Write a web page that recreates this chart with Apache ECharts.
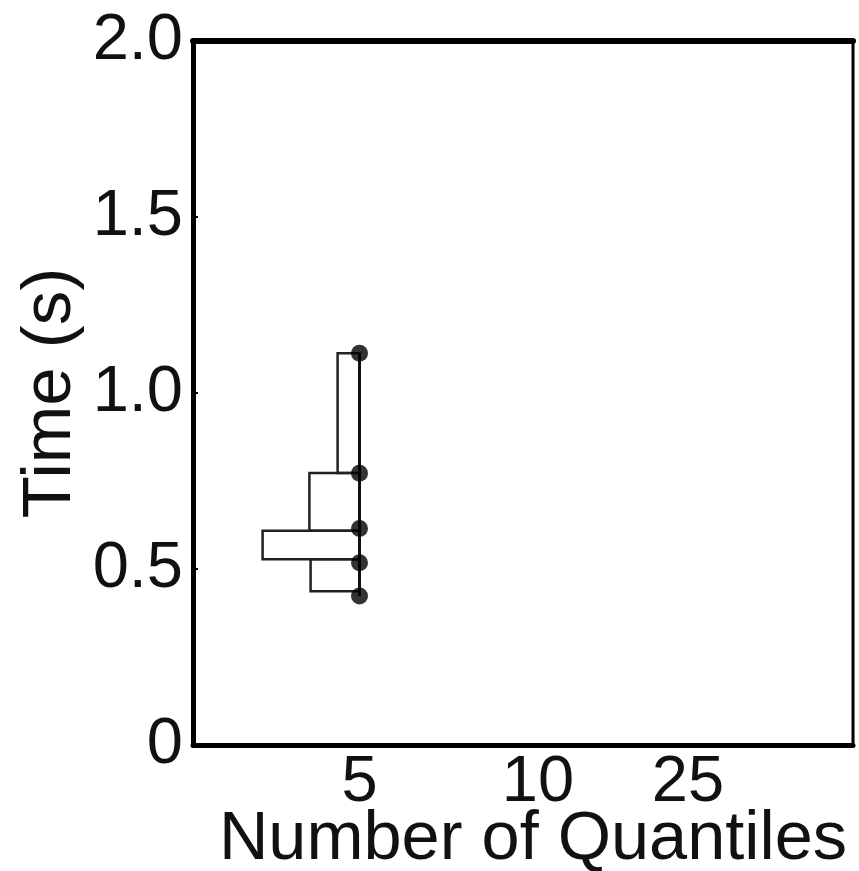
<!DOCTYPE html>
<html>
<head>
<meta charset="utf-8">
<script src="https://cdn.jsdelivr.net/npm/echarts@6/dist/echarts.min.js"></script>
<style>
html,body{margin:0;padding:0;background:#fff;}
#c{width:859px;height:871px;}
</style>
</head>
<body>
<div id="c"></div>
<script>
// x-axis slots for each quantile setting (axis units) and their labels
var quantileSlots = [5.55, 11.5, 16.5];
var quantileLabels = ['5', '10', '25'];
// 5-quantile case: quantile times (s)
var quantileTimes5 = [0.423, 0.518, 0.615, 0.772, 1.113];
// histogram bins (s) between quantiles and their bar lengths (axis units)
var binLow5  = [0.437, 0.528, 0.609, 0.773];
var binHigh5 = [0.528, 0.609, 0.773, 1.113];
var binLen5  = [1.63, 3.23, 1.67, 0.73];
var yTicks = [0, 0.5, 1.0, 1.5, 2.0];

var FONT = 'Liberation Sans';
var slot = quantileSlots[0];

var barData = binLow5.map(function (lo, i) { return [slot, lo, binHigh5[i], binLen5[i]]; });
var dotData = quantileTimes5.map(function (t) { return [slot, t]; });

var chart = echarts.init(document.getElementById('c'));
chart.setOption({
  animation: false,
  backgroundColor: '#fff',
  grid: { left: 193, right: 6, top: 41, bottom: 126, show: true, borderColor: '#000', borderWidth: 3,
          outerBoundsMode: 'none', containLabel: false },
  xAxis: [{
    type: 'value', min: 0, max: 22, position: 'bottom',
    name: 'Number of Quantiles', nameLocation: 'middle', nameGap: 61, nameMoveOverlap: false,
    nameTextStyle: { fontFamily: FONT, fontSize: 68.5, color: '#111', padding: [0, 0, 0, 20] },
    axisLine: { show: true, onZero: false, lineStyle: { color: '#000', width: 5 } },
    axisTick: { show: false },
    splitLine: { show: false },
    axisLabel: {
      customValues: quantileSlots, margin: 6,
      fontFamily: FONT, fontSize: 65, color: '#111',
      formatter: function (v) { var i = quantileSlots.indexOf(v); return i >= 0 ? quantileLabels[i] : ''; }
    }
  }, {
    type: 'value', min: 0, max: 22, position: 'top',
    axisLine: { show: true, onZero: false, lineStyle: { color: '#000', width: 6 } },
    axisTick: { show: false }, axisLabel: { show: false }, splitLine: { show: false }
  }],
  yAxis: {
    type: 'value', min: 0, max: 2, interval: 0.5,
    name: 'Time (s)', nameLocation: 'middle', nameGap: 108, nameMoveOverlap: false,
    nameTextStyle: { fontFamily: FONT, fontSize: 69, color: '#111' },
    axisLine: { show: true, onZero: false, lineStyle: { color: '#000', width: 5 } },
    axisTick: { show: true, inside: true, length: 5, lineStyle: { color: '#000', width: 2 } },
    splitLine: { show: false },
    axisLabel: {
      margin: 10, fontFamily: FONT, fontSize: 65, color: '#111',
      formatter: function (v) { return v === 0 ? '0' : v.toFixed(1); }
    }
  },
  series: [{
    type: 'custom',
    data: barData,
    renderItem: function (params, api) {
      var x = api.value(0), lo = api.value(1), hi = api.value(2), len = api.value(3);
      var p1 = api.coord([x - len, hi]);
      var p2 = api.coord([x, lo]);
      return {
        type: 'rect',
        shape: { x: p1[0], y: p1[1], width: p2[0] - p1[0], height: p2[1] - p1[1] },
        style: { fill: 'none', stroke: '#222', lineWidth: 2.5 }
      };
    },
    z: 2
  }, {
    type: 'line', data: dotData, symbol: 'none',
    lineStyle: { color: '#111', width: 3 }, z: 3
  }, {
    type: 'scatter', data: dotData, symbol: 'circle', symbolSize: 17,
    itemStyle: { color: '#000' }, z: 4
  }]
});
</script>
</body>
</html>
